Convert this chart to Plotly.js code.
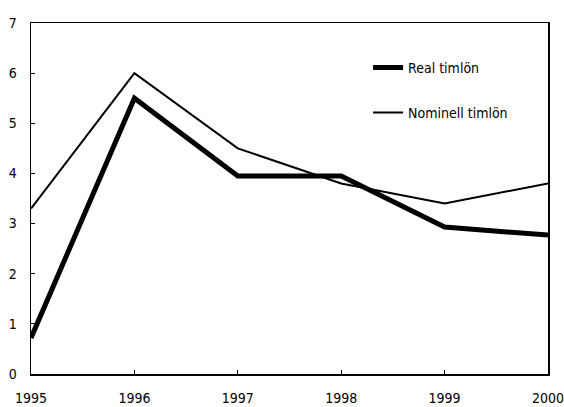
<!DOCTYPE html>
<html>
<head>
<meta charset="utf-8">
<script src="https://cdn.plot.ly/plotly-3.0.1.min.js"></script>
<style>html,body{margin:0;padding:0;background:#fff;}#chart{width:564px;height:407px;}</style>
</head>
<body>
<div id="chart"></div>
<script>
const years = [1995, 1996, 1997, 1998, 1999, 2000];
const realWage = [0.72, 5.5, 3.95, 3.95, 2.93, 2.77];
const nominalWage = [3.3, 6.0, 4.5, 3.8, 3.4, 3.8];
const seriesNames = ["Real timlön", "Nominell timlön"];
const yTicks = [0, 1, 2, 3, 4, 5, 6, 7];

const fontFam = "'Liberation Sans Narrow', 'Arial Narrow', 'DejaVu Sans Condensed', sans-serif";

const traces = [
  {x: years, y: realWage, name: seriesNames[0], type: 'scatter', mode: 'lines',
   line: {color: '#000', width: 5}, legendgroup: 'a'},
  {x: years, y: nominalWage, name: seriesNames[1], type: 'scatter', mode: 'lines',
   line: {color: '#000', width: 2}, legendgroup: 'b'}
];

const layout = {
  width: 564, height: 407,
  margin: {l: 31, r: 16, t: 23, b: 33, pad: 0},
  paper_bgcolor: '#fff', plot_bgcolor: '#fff',
  font: {family: fontFam, size: 14, color: '#000'},
  showlegend: true,
  legend: {x: 0.652, y: 0.918, xanchor: 'left', yanchor: 'top', bgcolor: 'rgba(0,0,0,0)',
           tracegroupgap: 24, font: {family: fontFam, size: 14, color: '#000'}},
  xaxis: {range: [1995, 2000], tickvals: years, ticktext: years.map(String),
          ticks: 'inside', ticklen: 4, tickcolor: '#000', showgrid: false, zeroline: false,
          showline: true, linecolor: '#000', linewidth: 1.5, mirror: true,
          ticklabelstandoff: 11, ticklabeloverflow: 'allow', fixedrange: true},
  yaxis: {range: [0, 7], tickvals: yTicks,
          ticks: 'inside', ticklen: 4, tickcolor: '#000', showgrid: false, zeroline: false,
          showline: true, linecolor: '#000', linewidth: 1.5, mirror: true,
          ticklabelstandoff: 10, ticklabeloverflow: 'allow', fixedrange: true}
};

Plotly.newPlot('chart', traces, layout, {displayModeBar: false, staticPlot: true});
</script>
</body>
</html>
